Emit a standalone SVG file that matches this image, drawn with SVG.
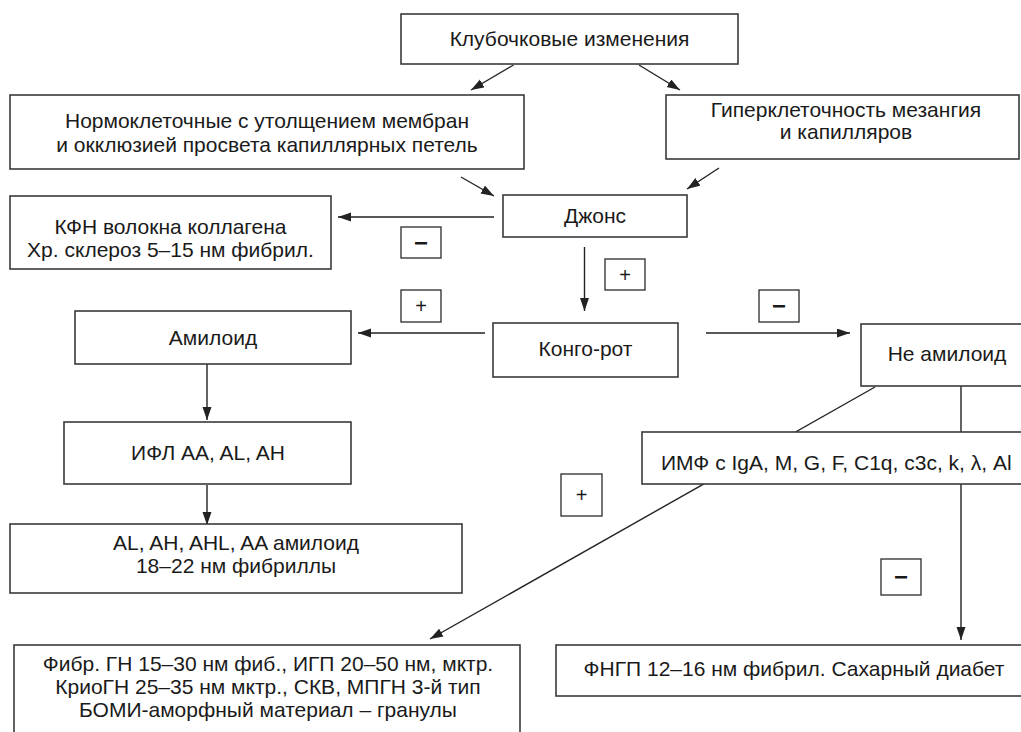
<svg xmlns="http://www.w3.org/2000/svg" width="1021" height="732" viewBox="0 0 1021 732">
<style>
.box{fill:#fff;stroke:#3a3a3a;stroke-width:1.6}
.sign{fill:#fff;stroke:#3a3a3a;stroke-width:1.4}
.t{font-family:"Liberation Sans",Arial,sans-serif;font-size:21px;fill:#1a1a1a;text-anchor:middle}
.s{font-family:"Liberation Sans",Arial,sans-serif;font-size:20px;fill:#1a1a1a;text-anchor:middle}
.m{font-family:"Liberation Sans",Arial,sans-serif;font-size:24px;font-weight:bold;fill:#1a1a1a;text-anchor:middle}
.c line{stroke:#222;stroke-width:1.4;fill:none}
</style>
<defs>
<marker id="ah" markerUnits="userSpaceOnUse" markerWidth="14" markerHeight="10" refX="13" refY="4.5" orient="auto">
<path d="M0,0 L13,4.5 L0,9 z" fill="#222"/>
</marker>
</defs>
<rect width="1021" height="732" fill="#fff"/>
<g id="connectors" class="c">
<line x1="513.5" y1="65" x2="471" y2="90" marker-end="url(#ah)"/>
<line x1="639" y1="65" x2="680" y2="90" marker-end="url(#ah)"/>
<line x1="461" y1="177" x2="494" y2="196" marker-end="url(#ah)"/>
<line x1="719" y1="168" x2="687" y2="189" marker-end="url(#ah)"/>
<line x1="494" y1="217" x2="338" y2="217" marker-end="url(#ah)"/>
<line x1="584.5" y1="247" x2="584.5" y2="311" marker-end="url(#ah)"/>
<line x1="485" y1="333" x2="358" y2="333" marker-end="url(#ah)"/>
<line x1="706" y1="333" x2="850" y2="333" marker-end="url(#ah)"/>
<line x1="207" y1="364" x2="207" y2="420" marker-end="url(#ah)"/>
<line x1="207" y1="485" x2="207" y2="525" marker-end="url(#ah)"/>
<line x1="875" y1="387" x2="430" y2="639" marker-end="url(#ah)"/>
<line x1="961" y1="386" x2="961" y2="640" marker-end="url(#ah)"/>
</g>
<g id="n-top"><rect class="box" x="401" y="14" width="337" height="50"/><text class="t" x="569.5" y="46">Клубочковые изменения</text></g>
<g id="n-norm"><rect class="box" x="10" y="95" width="514" height="74"/><text class="t" x="267" y="128">Нормоклеточные с утолщением мембран</text><text class="t" x="267" y="151.5">и окклюзией просвета капиллярных петель</text></g>
<g id="n-hyper"><rect class="box" x="666" y="95" width="353" height="64"/><text class="t" x="846" y="117">Гиперклеточность мезангия</text><text class="t" x="846" y="139">и капилляров</text></g>
<g id="n-jones"><rect class="box" x="503" y="195" width="184" height="42"/><text class="t" x="595" y="223">Джонс</text></g>
<g id="n-kfn"><rect class="box" x="10" y="196" width="321" height="73"/><text class="t" x="170.5" y="234">КФН волокна коллагена</text><text class="t" x="170.5" y="257">Хр. склероз 5–15 нм фибрил.</text></g>
<g id="s-minus1"><rect class="sign" x="401" y="227" width="40" height="31"/><text class="m" x="421" y="251">−</text></g>
<g id="s-plus1"><rect class="sign" x="401" y="290" width="40" height="32"/><text class="s" x="421" y="313">+</text></g>
<g id="n-amyloid"><rect class="box" x="75" y="311" width="276" height="53"/><text class="t" x="213" y="345">Амилоид</text></g>
<g id="n-congo"><rect class="box" x="493" y="323" width="185" height="54"/><text class="t" x="585.5" y="356">Конго-рот</text></g>
<g id="s-plus2"><rect class="sign" x="605" y="259" width="40" height="31"/><text class="s" x="625" y="282">+</text></g>
<g id="s-minus2"><rect class="sign" x="759" y="290" width="40" height="32"/><text class="m" x="779" y="314">−</text></g>
<g id="n-nonamyloid"><rect class="box" x="861" y="324" width="170" height="62"/><text class="t" x="947" y="361">Не амилоид</text></g>
<g id="n-ifl"><rect class="box" x="64" y="422" width="287" height="62"/><text class="t" x="208" y="460">ИФЛ AA, AL, AH</text></g>
<g id="n-imf"><rect class="box" x="642" y="432" width="390" height="52"/><text class="t" x="661" y="470" style="text-anchor:start">ИМФ с IgA, M, G, F, C1q, c3c, k, λ, Al</text></g>
<g id="s-plus3"><rect class="sign" x="561" y="474" width="41" height="42"/><text class="s" x="581.5" y="502">+</text></g>
<g id="s-minus3"><rect class="sign" x="881" y="559" width="40" height="36"/><text class="m" x="901" y="585">−</text></g>
<g id="n-al"><rect class="box" x="10" y="524" width="452" height="69"/><text class="t" x="236" y="550">AL, AH, AHL, AA амилоид</text><text class="t" x="236" y="573">18–22 нм фибриллы</text></g>
<g id="n-fibr"><rect class="box" x="14" y="645" width="506" height="100"/><text class="t" x="268" y="671">Фибр. ГН 15–30 нм фиб., ИГП 20–50 нм, мктр.</text><text class="t" x="268" y="694">КриоГН 25–35 нм мктр., СКВ, МПГН 3-й тип</text><text class="t" x="268" y="717">БОМИ-аморфный материал – гранулы</text></g>
<g id="n-fngp"><rect class="box" x="556" y="645" width="480" height="51"/><text class="t" x="794" y="676">ФНГП 12–16 нм фибрил. Сахарный диабет</text></g>
</svg>
